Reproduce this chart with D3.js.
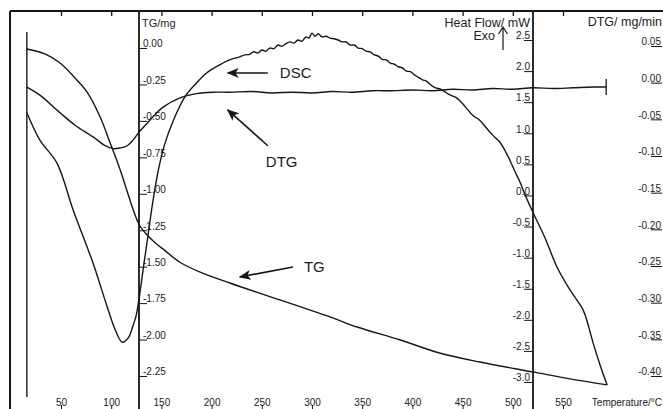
<!DOCTYPE html>
<html>
<head>
<meta charset="utf-8">
<script src="https://cdn.jsdelivr.net/npm/d3@7"></script>
<style>
  body { margin: 0; background: #fff; }
  svg { display: block; font-family: "Liberation Sans", Arial, sans-serif; }
</style>
</head>
<body>
<script>
// tick values of the four axes
var tempTicks = [50, 100, 150, 200, 250, 300, 350, 400, 450, 500, 550];
var tgTicks = [0, -0.25, -0.5, -0.75, -1.0, -1.25, -1.5, -1.75, -2.0, -2.25];
var hfTicks = [2.5, 2.0, 1.5, 1.0, 0.5, 0.0, -0.5, -1.0, -1.5, -2.0, -2.5, -3.0];
var dtgTicks = [0.05, 0.0, -0.05, -0.1, -0.15, -0.2, -0.25, -0.3, -0.35, -0.4];

// TG curve (mg vs temperature)
var tgTemp = [16, 34, 49, 64, 76, 89, 99, 109, 122, 128, 134, 144, 154, 168, 188, 218, 268, 318, 345, 388, 427, 467, 520, 557, 594];
var tgMass = [-0.007, -0.041, -0.103, -0.206, -0.302, -0.473, -0.652, -0.837, -1.111, -1.214, -1.269, -1.338, -1.392, -1.468, -1.536, -1.612, -1.728, -1.845, -1.914, -2.003, -2.092, -2.154, -2.222, -2.27, -2.311];

// DSC curve (heat flow in mW vs temperature)
var dscTemp = [16, 29, 46, 62, 76, 82, 96, 104, 111, 117, 122, 125, 128, 132, 136, 141, 147, 153, 162, 174, 185, 195, 208, 218, 228,
  233, 238, 242, 246, 250, 254, 258, 262, 266, 270, 274, 278, 282, 286, 290, 294, 297, 300, 303, 306, 310, 314, 318, 322, 326, 330,
  334, 338, 342, 346, 350, 354, 358, 362, 366, 370, 374, 378, 382, 386, 390, 394, 398, 402, 406, 410, 414, 418, 423, 428,
  433, 437, 444, 452, 460, 467, 474, 480, 487, 492, 497, 502, 507, 512, 520, 532, 544, 557, 570, 575, 580, 587, 594];
var dscFlow = [1.33, 0.89, 0.52, -0.23, -0.83, -1.09, -1.79, -2.16, -2.36, -2.29, -2.08, -1.92, -1.63, -1.17, -0.72, -0.15, 0.41, 0.81, 1.21, 1.6, 1.81, 1.97, 2.1, 2.18, 2.23,
  2.26, 2.27, 2.31, 2.29, 2.34, 2.32, 2.37, 2.36, 2.42, 2.4, 2.44, 2.47, 2.45, 2.5, 2.48, 2.55, 2.53, 2.61, 2.56, 2.6, 2.55, 2.56, 2.53, 2.52, 2.5, 2.47,
  2.47, 2.42, 2.42, 2.37, 2.36, 2.32, 2.31, 2.26, 2.24, 2.19, 2.18, 2.13, 2.11, 2.07, 2.05, 2.0, 1.99, 1.94, 1.9, 1.86, 1.84, 1.78, 1.73, 1.71,
  1.66, 1.62, 1.57, 1.44, 1.29, 1.21, 1.08, 0.97, 0.86, 0.73, 0.57, 0.39, 0.22, 0.02, -0.27, -0.68, -1.15, -1.52, -1.84, -2.08, -2.37, -2.73, -3.05];

// DTG curve (mg/min vs temperature)
var dtgTemp = [16, 29, 49, 64, 82, 94, 102, 109, 116, 122, 128, 136, 144, 152, 168, 185, 201, 218, 240, 260, 280, 300, 320, 340, 360, 380, 400, 420, 440, 460, 480, 500, 520, 540, 560, 580, 593];
var dtgRate = [-0.006, -0.017, -0.041, -0.058, -0.074, -0.086, -0.09, -0.089, -0.086, -0.078, -0.067, -0.055, -0.043, -0.033, -0.021, -0.015, -0.013, -0.013, -0.012, -0.014, -0.013, -0.014, -0.012, -0.013, -0.011, -0.011, -0.01, -0.011, -0.009, -0.01, -0.008, -0.009, -0.007, -0.008, -0.007, -0.006, -0.006];

var width = 663;
var height = 409;

var svg = d3
  .select("body")
  .append("svg")
  .attr("width", width)
  .attr("height", height);

// layout of the frame and axis lines
var frameLeft = 10;
var frameTop = 11;
var tgAxisX = 139;
var hfAxisX = 533;
var dtgAxisX = 662;

var x = d3.scaleLinear().domain([50, 550]).range([61, 563]);
var yTG = d3.scaleLinear().domain([0, -2.25]).range([48, 376]);
var yHF = d3.scaleLinear().domain([2.5, -3.0]).range([40, 382]);
var yDTG = d3.scaleLinear().domain([0.05, -0.4]).range([46, 376]);

var ink = "#161616";

// outer frame (left + top)
svg.append("line").attr("x1", frameLeft).attr("x2", frameLeft).attr("y1", frameTop).attr("y2", height)
  .attr("stroke", ink).attr("stroke-width", 2);
svg.append("line").attr("x1", frameLeft).attr("x2", width).attr("y1", frameTop).attr("y2", frameTop)
  .attr("stroke", ink).attr("stroke-width", 2);

// start-of-run marker line
svg.append("line").attr("x1", x(tgTemp[0])).attr("x2", x(tgTemp[0])).attr("y1", 32).attr("y2", 397)
  .attr("stroke", ink).attr("stroke-width", 1.4);

// vertical axis lines
[tgAxisX, hfAxisX].forEach(function (ax) {
  svg.append("line").attr("x1", ax).attr("x2", ax).attr("y1", frameTop).attr("y2", height)
    .attr("stroke", ink).attr("stroke-width", 1.8);
});

function styleAxis(g, size) {
  g.select(".domain").remove();
  g.attr("font-family", null).attr("font-size", null);
  g.selectAll(".tick line").attr("stroke", ink);
  g.selectAll("text").attr("fill", "#222").style("font-size", size + "px");
}

// top ticks
var topAxis = svg.append("g")
  .attr("transform", "translate(0," + frameTop + ")")
  .call(d3.axisBottom(x).tickValues(tempTicks).tickSize(5).tickFormat(""));
styleAxis(topAxis, 10);
topAxis.selectAll(".tick line").attr("stroke-width", 1.3);

// bottom temperature axis
var bottomAxis = svg.append("g")
  .attr("transform", "translate(0," + height + ")")
  .call(d3.axisTop(x).tickValues(tempTicks).tickSize(4).tickPadding(-1).tickFormat(function (d) { return d; }));
styleAxis(bottomAxis, 10);
bottomAxis.selectAll("text").attr("dy", "0em");

// TG axis
var tgAxis = svg.append("g")
  .attr("transform", "translate(" + tgAxisX + ",0)")
  .call(d3.axisRight(yTG).tickValues(tgTicks).tickSize(8).tickPadding(-4).tickFormat(function (d) { return d.toFixed(2); }));
styleAxis(tgAxis, 10);
tgAxis.selectAll("text").attr("dy", "-0.12em");

// Heat flow axis
var hfAxis = svg.append("g")
  .attr("transform", "translate(" + hfAxisX + ",0)")
  .call(d3.axisLeft(yHF).tickValues(hfTicks).tickSize(9).tickPadding(-6).tickFormat(function (d) { return d.toFixed(1); }));
styleAxis(hfAxis, 10);
hfAxis.selectAll("text").attr("dy", "-0.12em");

// DTG axis
var dtgAxis = svg.append("g")
  .attr("transform", "translate(" + dtgAxisX + ",0)")
  .call(d3.axisLeft(yDTG).tickValues(dtgTicks).tickSize(11).tickPadding(-10).tickFormat(function (d) { return d.toFixed(2); }));
styleAxis(dtgAxis, 10);
dtgAxis.selectAll("text").attr("dy", "-0.12em");

// axis titles
svg.append("text").attr("x", 142).attr("y", 27).attr("font-size", 11).attr("fill", "#222").text("TG/mg");
svg.append("text").attr("x", 530).attr("y", 27).attr("font-size", 12.5).attr("text-anchor", "end").attr("fill", "#222").text("Heat Flow/ mW");
svg.append("text").attr("x", 495).attr("y", 40).attr("font-size", 12.5).attr("text-anchor", "end").attr("fill", "#222").text("Exo");
svg.append("text").attr("x", 662).attr("y", 26).attr("font-size", 12.5).attr("text-anchor", "end").attr("fill", "#222").text("DTG/ mg/min");
svg.append("text").attr("x", 662).attr("y", 406).attr("font-size", 10).attr("text-anchor", "end").attr("fill", "#222").text("Temperature/°C");

// Exo arrow
svg.append("path")
  .attr("d", "M503,50 L503,28 M498.5,34 L503,27 L507.5,34")
  .attr("fill", "none").attr("stroke", ink).attr("stroke-width", 1.2);

// curves
function drawCurve(temps, vals, yScale) {
  var pts = temps.map(function (t, i) { return [x(t), yScale(vals[i])]; });
  svg.append("path")
    .datum(pts)
    .attr("fill", "none")
    .attr("stroke", ink)
    .attr("stroke-width", 1.4)
    .attr("stroke-linejoin", "round")
    .attr("d", d3.line().curve(d3.curveCatmullRom.alpha(0.5)));
}
drawCurve(tgTemp, tgMass, yTG);
drawCurve(dscTemp, dscFlow, yHF);
drawCurve(dtgTemp, dtgRate, yDTG);

// end mark of the DTG trace
var lastT = dtgTemp[dtgTemp.length - 1];
var lastV = dtgRate[dtgRate.length - 1];
svg.append("line")
  .attr("x1", x(lastT)).attr("x2", x(lastT))
  .attr("y1", yDTG(lastV) - 8).attr("y2", yDTG(lastV) + 8)
  .attr("stroke", ink).attr("stroke-width", 1.3);

// arrow head marker
svg.append("defs").append("marker")
  .attr("id", "head")
  .attr("markerUnits", "userSpaceOnUse")
  .attr("viewBox", "0 0 12 10")
  .attr("refX", 11).attr("refY", 5)
  .attr("markerWidth", 12).attr("markerHeight", 10)
  .attr("orient", "auto")
  .append("path").attr("d", "M0,0 L12,5 L0,10 L3,5 Z").attr("fill", ink);

// curve annotations
var notes = [
  { text: "DSC", scale: yHF, tipT: 216, tipV: 1.97, tailT: 256, tailV: 1.97, textT: 268, textV: 1.89 },
  { text: "DTG", scale: yDTG, tipT: 216, tipV: -0.037, tailT: 256, tailV: -0.086, textT: 254, textV: -0.115 },
  { text: "TG", scale: yTG, tipT: 228, tipV: -1.571, tailT: 281, tailV: -1.502, textT: 292, textV: -1.536 }
];
notes.forEach(function (n) {
  svg.append("line")
    .attr("x1", x(n.tailT)).attr("y1", n.scale(n.tailV))
    .attr("x2", x(n.tipT)).attr("y2", n.scale(n.tipV))
    .attr("stroke", ink).attr("stroke-width", 1.6)
    .attr("marker-end", "url(#head)");
  svg.append("text")
    .attr("x", x(n.textT)).attr("y", n.scale(n.textV))
    .attr("font-size", 15).attr("fill", "#1a1a1a")
    .text(n.text);
});
</script>
</body>
</html>
